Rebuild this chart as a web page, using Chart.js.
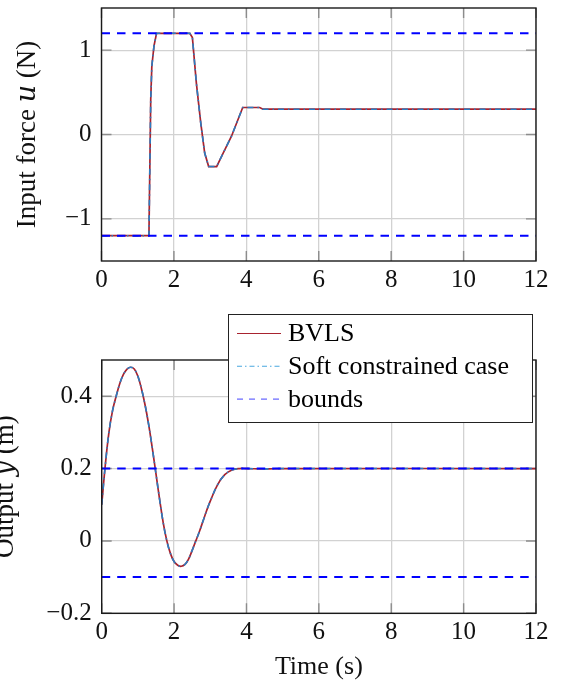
<!DOCTYPE html>
<html>
<head>
<meta charset="utf-8">
<script src="https://cdn.jsdelivr.net/npm/chart.js@4.4.0/dist/chart.umd.min.js"></script>
<style>
  html, body { margin: 0; padding: 0; background: #fff; overflow: hidden; }
  body { position: relative; width: 562px; height: 683px; }
  canvas { position: absolute; }
  #topChart { left: 0; top: 0; }
  #bottomChart { left: -10px; top: 300px; }
</style>
</head>
<body>
<canvas id="topChart" width="562" height="300"></canvas>
<canvas id="bottomChart" width="572" height="383"></canvas>
<script>
// time axis, shared by both panels
let timeTicks = [0, 2, 4, 6, 8, 10, 12];

// top panel: input force u (N)
let uTicks = [-1, 0, 1];
let uBounds = [-1.2, 1.2];
let uTime = [0, 1.31, 1.36, 1.39, 1.45, 1.52, 2.44, 2.51, 2.62, 2.74, 2.85, 2.96, 3.18, 3.36, 3.59, 3.9, 4.37, 4.46, 12];
let uBvls = [-1.2, -1.2, 0.42, 0.81, 1.05, 1.2, 1.2, 1.15, 0.61, 0.14, -0.22, -0.38, -0.38, -0.22, -0.02, 0.32, 0.32, 0.3, 0.3];
let uSoft = [-1.2, -1.2, 0.42, 0.81, 1.05, 1.2, 1.2, 1.15, 0.61, 0.14, -0.22, -0.38, -0.38, -0.22, -0.02, 0.32, 0.32, 0.3, 0.3];

// bottom panel: output y (m)
let yTicks = [-0.2, 0, 0.2, 0.4];
let yBounds = [-0.1, 0.2];
let yTime = [0, 0.1, 0.2, 0.3, 0.4, 0.5, 0.6, 0.7, 0.8, 0.9, 1.0, 1.1, 1.2, 1.3, 1.4, 1.5, 1.6, 1.7, 1.8, 1.9, 2.0, 2.1, 2.2, 2.3, 2.4, 2.5, 2.6, 2.7, 2.8, 2.9, 3.0, 3.2, 3.4, 3.6, 3.8, 4.0, 4.5, 5, 12];
let yBvls = [0.1, 0.21, 0.3, 0.36, 0.4, 0.435, 0.46, 0.475, 0.48, 0.475, 0.455, 0.42, 0.375, 0.32, 0.255, 0.185, 0.115, 0.05, 0.0, -0.035, -0.057, -0.067, -0.07, -0.065, -0.05, -0.026, 0.0, 0.026, 0.055, 0.084, 0.11, 0.155, 0.183, 0.196, 0.2, 0.2, 0.199, 0.2, 0.2];
let ySoft = [0.1, 0.21, 0.3, 0.36, 0.4, 0.435, 0.46, 0.475, 0.48, 0.475, 0.455, 0.42, 0.375, 0.32, 0.255, 0.185, 0.115, 0.05, 0.0, -0.035, -0.057, -0.067, -0.07, -0.065, -0.05, -0.026, 0.0, 0.026, 0.055, 0.084, 0.11, 0.155, 0.183, 0.196, 0.2, 0.2, 0.199, 0.2, 0.2];

const serif = "'Liberation Serif', 'DejaVu Serif', serif";

function toPoints(xs, ys) {
  return xs.map((x, i) => ({ x: x, y: ys[i] }));
}

function boundLine(v) {
  return [{ x: timeTicks[0], y: v }, { x: timeTicks[timeTicks.length - 1], y: v }];
}

function fmt(v) {
  return v < 0 ? '\u2212' + Math.abs(v) : String(v);
}

function makeDatasets(t, bvls, soft, bounds, tension) {
  return [
    { label: 'BVLS', data: toPoints(t, bvls), borderColor: '#a8232f', borderWidth: 1.7,
      tension: tension, order: 2, legendDash: [] },
    { label: 'Soft constrained case', data: toPoints(t, soft), borderColor: '#2a7dc2', borderWidth: 1.6,
      borderDash: [6, 4, 1.5, 4], tension: tension, order: 1, legendDash: [5, 3, 1.5, 3], legendColor: '#4aa8e0' },
    { label: 'bounds', data: boundLine(bounds[1]), borderColor: '#0000ff', borderWidth: 2,
      borderDash: [8.5, 7], order: 0, legendDash: [6, 6], legendColor: '#5555ff' },
    { label: 'bounds', data: boundLine(bounds[0]), borderColor: '#0000ff', borderWidth: 2,
      borderDash: [8.5, 7], order: 0 }
  ];
}

// box around the plot and the short inner tick marks on all four sides
const framePlugin = {
  id: 'frame',
  beforeDatasetsDraw(chart) {
    const ctx = chart.ctx, a = chart.chartArea;
    const xs = chart.scales.x, ys = chart.scales.y;
    ctx.save();
    ctx.strokeStyle = '#8c8c8c';
    ctx.lineWidth = 1.4;
    ctx.beginPath();
    xs.ticks.forEach(t => {
      const px = xs.getPixelForValue(t.value);
      ctx.moveTo(px, a.bottom); ctx.lineTo(px, a.bottom - 10);
      ctx.moveTo(px, a.top); ctx.lineTo(px, a.top + 10);
    });
    ys.ticks.forEach(t => {
      const py = ys.getPixelForValue(t.value);
      ctx.moveTo(a.left, py); ctx.lineTo(a.left + 10, py);
      ctx.moveTo(a.right, py); ctx.lineTo(a.right - 10, py);
    });
    ctx.stroke();
    ctx.restore();
  },
  afterDraw(chart) {
    const ctx = chart.ctx, a = chart.chartArea;
    ctx.save();
    ctx.strokeStyle = '#1a1a1a';
    ctx.lineWidth = 1.4;
    ctx.strokeRect(a.left, a.top, a.right - a.left, a.bottom - a.top);
    ctx.restore();
  }
};

// legend box that sits over the top edge of the lower plot
const legendBox = {
  id: 'legendBox',
  afterDraw(chart) {
    const ctx = chart.ctx, a = chart.chartArea;
    const width = 304, height = 108;
    const left = a.right - 4 - width, top = a.top - 46;
    ctx.save();
    ctx.fillStyle = '#fff';
    ctx.fillRect(left, top, width, height);
    ctx.strokeStyle = '#222';
    ctx.lineWidth = 1;
    ctx.strokeRect(left + 0.5, top + 0.5, width, height);
    const seen = new Set();
    let row = 0;
    chart.data.datasets.forEach(ds => {
      if (seen.has(ds.label)) return;
      seen.add(ds.label);
      const y = top + 19.5 + row * 32.8;
      row++;
      ctx.beginPath();
      ctx.setLineDash(ds.legendDash || []);
      ctx.strokeStyle = ds.legendColor || ds.borderColor;
      ctx.lineWidth = 1.1;
      ctx.moveTo(left + 9, y);
      ctx.lineTo(left + 53, y);
      ctx.stroke();
      ctx.setLineDash([]);
      ctx.fillStyle = '#000';
      ctx.font = '26px ' + serif;
      ctx.textBaseline = 'middle';
      ctx.textAlign = 'left';
      ctx.fillText(ds.label, left + 60, y + 1);
    });
    ctx.restore();
  }
};

function makeOptions(cfg) {
  return {
    responsive: false,
    animation: false,
    devicePixelRatio: 1,
    layout: { padding: cfg.padding },
    elements: { point: { radius: 0 }, line: { fill: false } },
    plugins: { legend: { display: false }, tooltip: { enabled: false } },
    scales: {
      x: {
        type: 'linear',
        min: timeTicks[0],
        max: timeTicks[timeTicks.length - 1],
        afterBuildTicks: s => { s.ticks = timeTicks.map(v => ({ value: v })); },
        afterFit: s => { s.height = cfg.xHeight; s.paddingLeft = 0; s.paddingRight = 0; },
        border: { display: false },
        grid: { color: '#d2d2d2', lineWidth: 1.3, drawTicks: false },
        ticks: { color: '#111', font: { family: serif, size: 25 }, padding: 4, maxRotation: 0, callback: v => fmt(v) },
        title: { display: !!cfg.xTitle, text: cfg.xTitle, color: '#111', font: { family: serif, size: 26 }, padding: { top: 0, bottom: 0 } }
      },
      y: {
        type: 'linear',
        min: cfg.yMin,
        max: cfg.yMax,
        afterBuildTicks: s => { s.ticks = cfg.yTicks.map(v => ({ value: v })); },
        afterFit: s => { s.width = cfg.yWidth; s.paddingTop = 0; s.paddingBottom = 0; },
        border: { display: false },
        grid: { color: '#d2d2d2', lineWidth: 1.3, drawTicks: false },
        ticks: { color: '#111', font: { family: serif, size: 25 }, padding: 10, callback: v => fmt(v) },
        title: { display: true, text: cfg.yTitle, color: '#111', font: { family: serif, size: 27 }, padding: { top: 0, bottom: 0 } }
      }
    }
  };
}

new Chart(document.getElementById('topChart'), {
  type: 'line',
  data: { datasets: makeDatasets(uTime, uBvls, uSoft, uBounds, 0) },
  options: makeOptions({
    padding: { left: 12, top: 8, right: 26, bottom: 0 },
    xHeight: 39, yWidth: 89.5,
    yMin: -1.5, yMax: 1.5, yTicks: uTicks,
    yTitle: 'Input force \uD835\uDC62 (N)'
  }),
  plugins: [framePlugin]
});

new Chart(document.getElementById('bottomChart'), {
  type: 'line',
  data: { datasets: makeDatasets(yTime, yBvls, ySoft, yBounds, 0.4) },
  options: makeOptions({
    padding: { left: 0, top: 60, right: 26, bottom: 0 },
    xHeight: 69.7, yWidth: 111.7,
    yMin: -0.2, yMax: 0.5, yTicks: yTicks,
    yTitle: 'Output \uD835\uDC66 (m)', xTitle: 'Time (s)'
  }),
  plugins: [framePlugin, legendBox]
});
</script>
</body>
</html>
